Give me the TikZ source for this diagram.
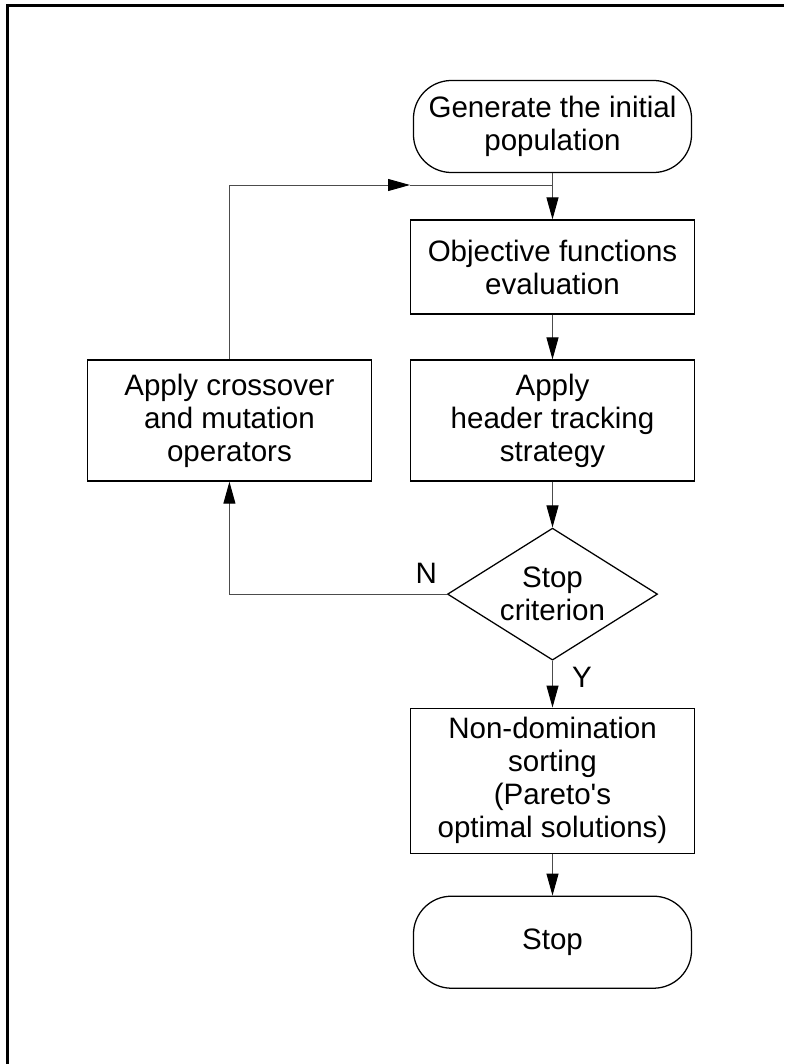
\documentclass[tikz,border=0pt]{standalone}
\usepackage{fontspec}
\setmainfont{Liberation Sans}[Ligatures=TeXOff]
\usepackage{tikz}
\usetikzlibrary{arrows.meta,shapes.geometric}
\usetikzlibrary{positioning}
\tikzset{
    term/.style={
           rectangle, rounded corners=0.95cm,
           draw=black, line width=0.9pt,
           minimum width=6.95cm, minimum height=2.3cm,
           inner sep=0pt, align=center,
           font=\fontsize{21}{23.5}\selectfont,
           },
}
\tikzset{
    proc/.style={
           rectangle,
           draw=black, line width=0.9pt,
           minimum width=7.1cm,
           inner sep=0pt, align=center,
           font=\fontsize{21}{23.5}\selectfont,
           },
}
\tikzset{
    dec/.style={
           diamond, aspect=1.59,
           draw=black, line width=0.9pt,
           minimum width=5.25cm, minimum height=3.3cm,
           inner sep=0pt, align=center,
           font=\fontsize{21}{23.5}\selectfont,
           },
}
\tikzset{
    flow/.style={
           draw=black!70, line width=0.7pt,
           -{Triangle[length=0.55cm,width=0.3cm,color=black]},
           },
    lbl/.style={
           inner sep=0pt,
           font=\fontsize{21}{23.5}\selectfont,
           },
}

\begin{document}
\begin{tikzpicture}[x=0.025cm,y=-0.025cm]
\useasboundingbox (0,0) rectangle (784,1064);
\draw[line width=0.0625cm] (7.5,1064) -- (7.5,5.5) -- (784,5.5);
\node[term](0) at (552.5,126.5){Generate the initial\\population};
\node[proc,minimum height=2.35cm,node distance=3.5125cm,below of = 0](1){Objective functions\\evaluation};
\node[proc,minimum height=3.025cm,node distance=3.8375cm,below of = 1](2){Apply\\header tracking\\strategy};
\node[proc,minimum height=3.025cm,node distance=8.075cm,left of = 2](3){Apply crossover\\and mutation\\operators};
\node[dec,node distance=4.3375cm,below of = 2](4){Stop\\criterion};
\node[proc,minimum height=3.625cm,node distance=4.6625cm,below of = 4](5){Non-domination\\sorting\\(Pareto's\\optimal solutions)};
\node[term,node distance=4.0375cm,below of = 5](6){Stop};
\coordinate (j) at (410,185);
% main column
\draw[flow] (0) -- (1);
\draw[flow] (1) -- (2);
\draw[flow] (2) -- (4);
\draw[flow] (4) -- node[lbl,pos=0.35,right=0.475cm]{Y} (5);
\draw[flow] (5) -- (6);
% loop back
\draw[flow] (4.west) -| node[lbl,pos=0.047,above=0.26cm]{N} (3.south);
\draw[flow] (3.north) |- (j);
\draw[draw=black!70, line width=0.7pt] (j) -- (1.north |- j);
\end{tikzpicture}
\end{document}
